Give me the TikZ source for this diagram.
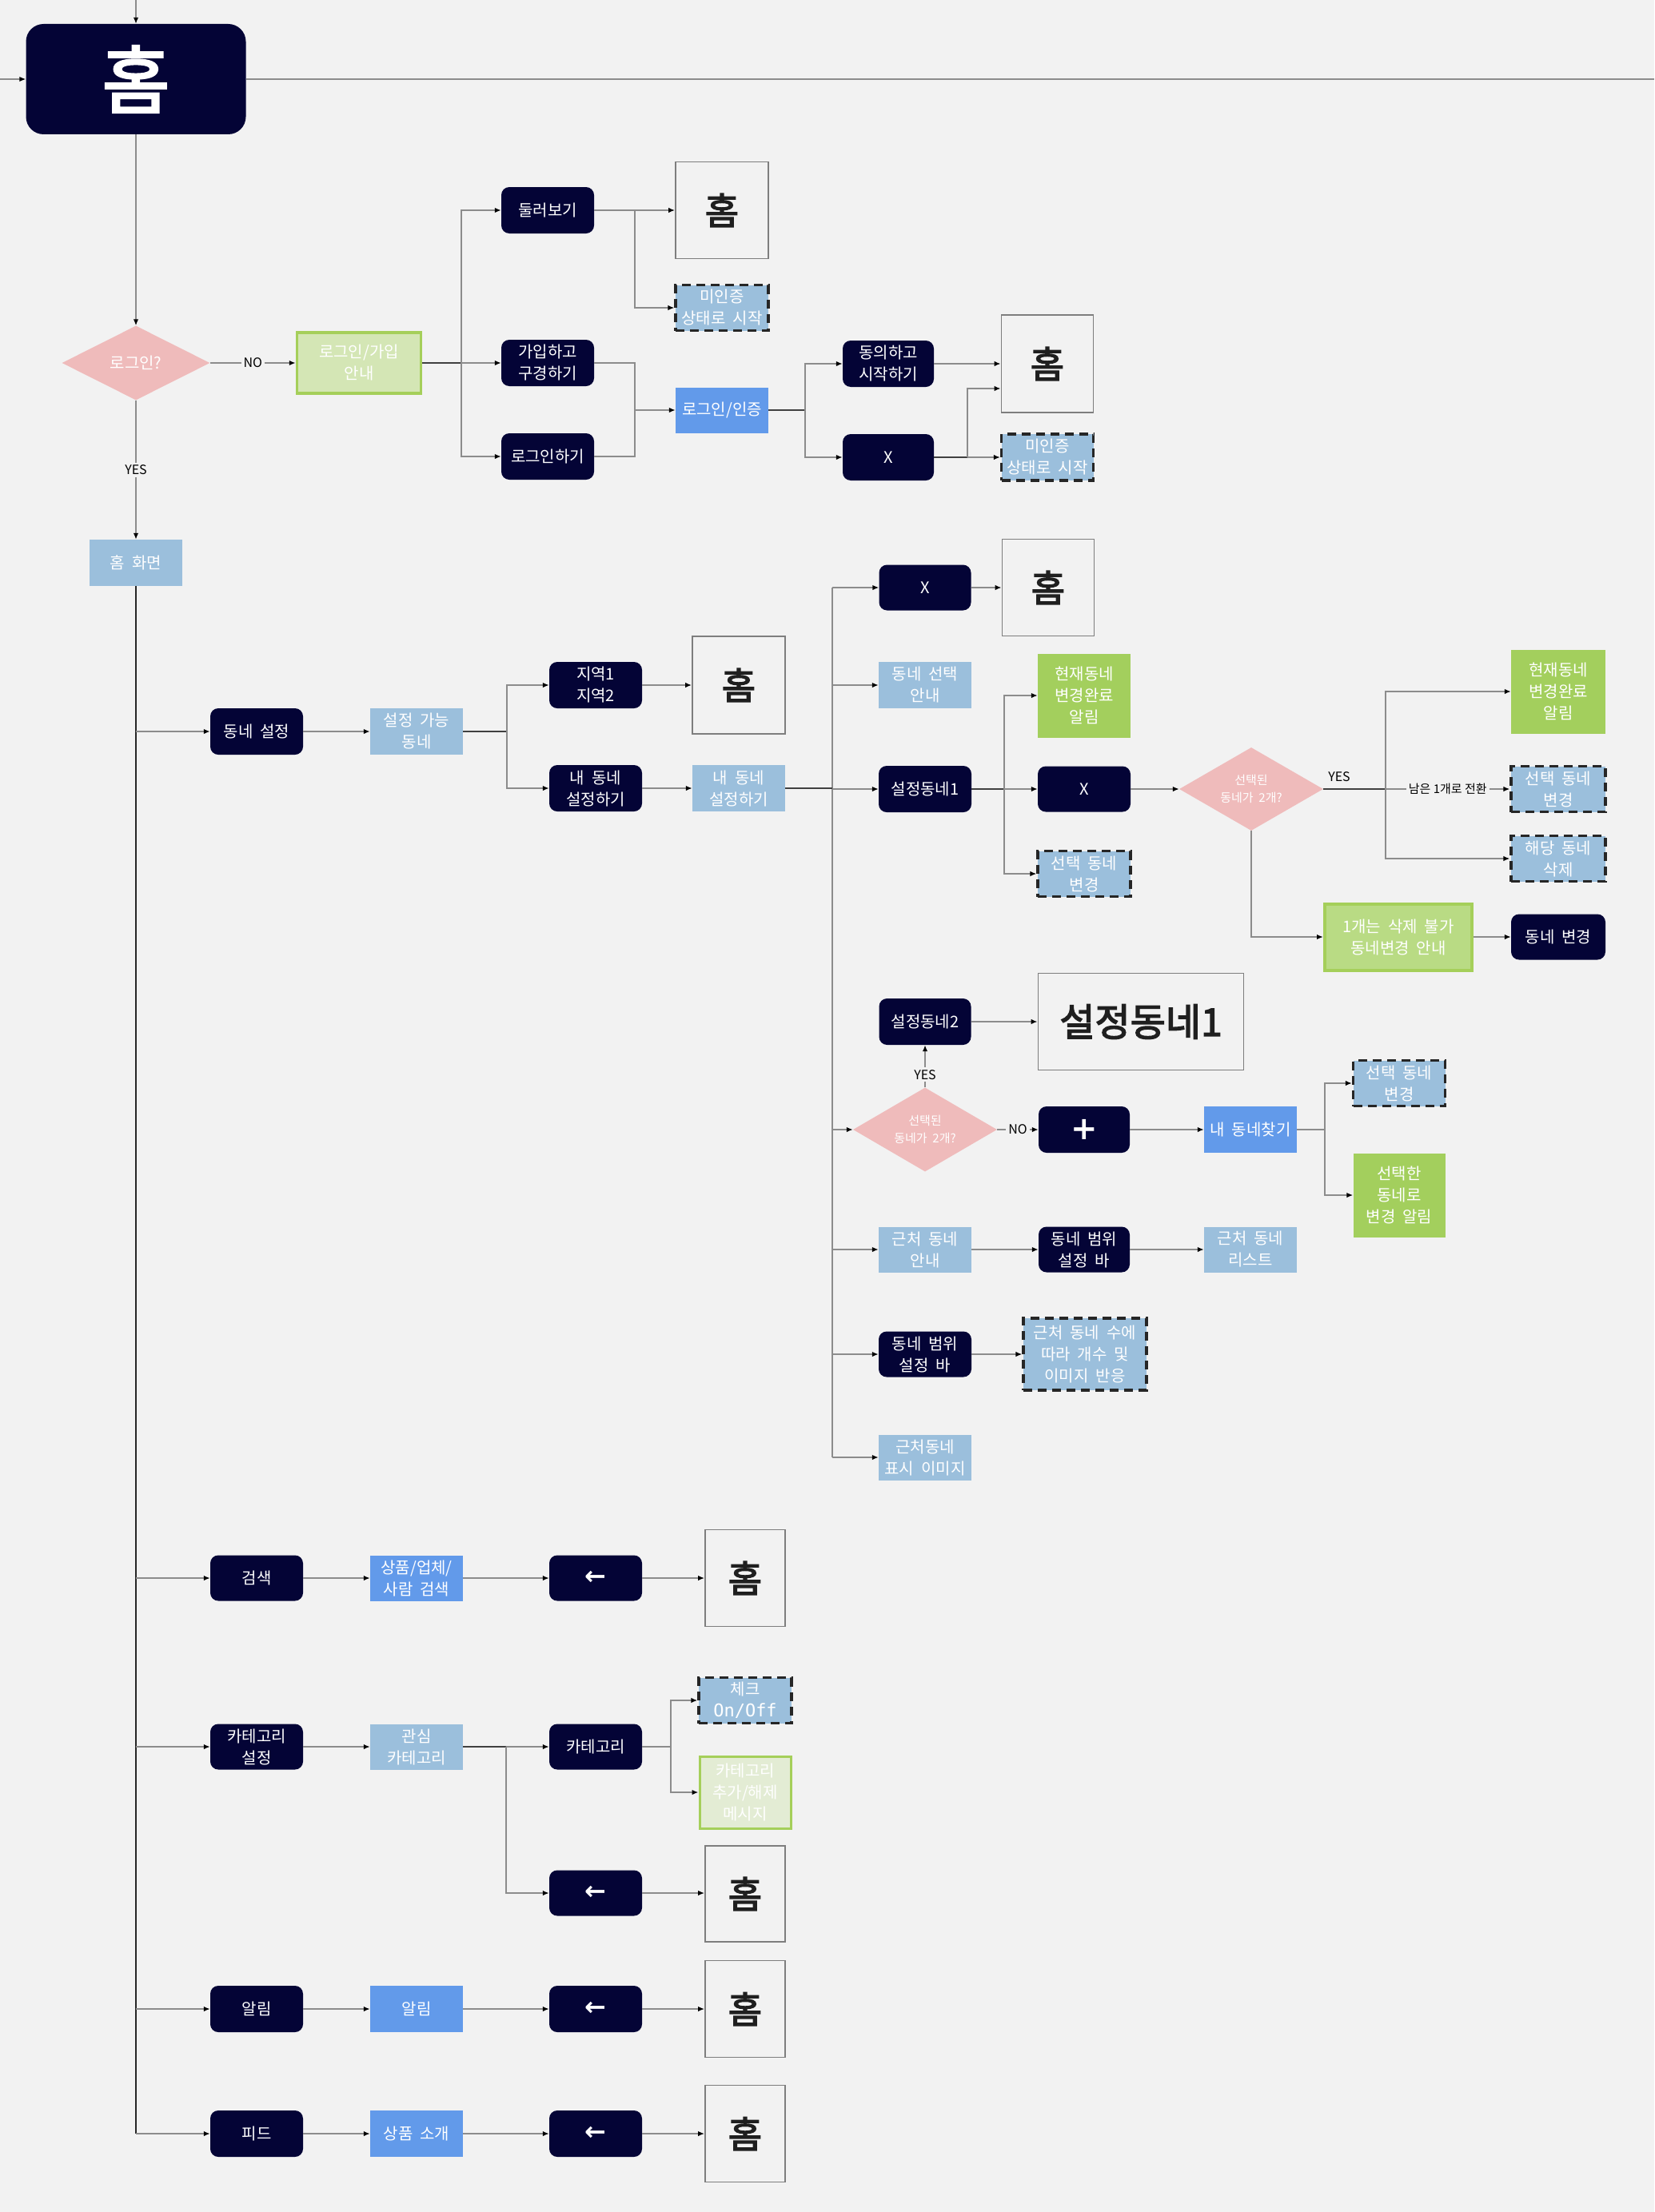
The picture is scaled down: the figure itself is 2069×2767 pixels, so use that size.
\documentclass[tikz,border=0pt]{standalone}
\usepackage{fontspec}
\setmainfont{Noto Sans CJK KR}
\newfontfamily\heavyfont[FakeBold=3]{Noto Sans CJK KR}
\newfontfamily\symfont{DejaVu Sans}
\newfontfamily\codefont{DejaVu Sans Mono}
\usetikzlibrary{arrows.meta,shapes.geometric,calc}

\definecolor{navy}{HTML}{040436}
\definecolor{paper}{HTML}{F2F2F2}
\definecolor{steel}{HTML}{9BBFDC}
\definecolor{corn}{HTML}{629AEA}
\definecolor{blush}{HTML}{EFBBBB}
\definecolor{leaf}{HTML}{A3CF5D}
\definecolor{leafpale}{HTML}{D4E6B5}
\definecolor{leafmid}{HTML}{B9DB84}
\definecolor{leafedge}{HTML}{A5CF5A}
\definecolor{leafwash}{HTML}{E3ECD4}
\definecolor{wirecol}{HTML}{8C8C8C}
\definecolor{ink}{HTML}{1F1F1F}

\newcommand\boxfont[2]{\fontsize{#1}{#2}\selectfont\spaceskip=0.45em\relax}

\begin{document}
\begin{tikzpicture}[x=1pt,y=-1pt,
  base/.style={align=center, inner sep=0pt, text=white, font=\boxfont{20}{27}},
  navybox/.style={base, fill=navy, rounded corners=10pt, minimum width=116pt, minimum height=58pt},
  palebox/.style={base, fill=steel, minimum width=116pt, minimum height=58pt},
  brightbox/.style={base, fill=corn, minimum width=116pt, minimum height=58pt},
  dashbox/.style={base, fill=steel, draw=black!85, line width=3.2pt, dash pattern=on 11pt off 7pt, minimum width=116pt, minimum height=57pt},
  leafbox/.style={base, fill=leaf, minimum width=116pt, minimum height=105pt},
  screenbox/.style={draw=wirecol!90!black, line width=1.8pt, fill=paper, text=ink, inner sep=0pt, font=\heavyfont\fontsize{46}{46}\selectfont, minimum width=116pt, minimum height=121pt},
  decision/.style={base, diamond, shape aspect=2, fill=blush, minimum width=180pt, minimum height=104pt, font=\boxfont{15}{22}},
  wire/.style={draw=wirecol, line width=1.8pt},
  stem/.style={draw=black!75, line width=2.2pt},
  flow/.style={wire, -{Latex[length=8pt,width=6.5pt,color=black]}},
  busline/.style={draw=black!85, line width=2.6pt},
  tag/.style={fill=paper, inner sep=3pt, text=black, font=\fontsize{16}{16}\selectfont},
  arrowglyph/.style={font=\symfont\bfseries\fontsize{32}{32}\selectfont}
]
\fill[paper] (0,0) rectangle (2069,2767);
\useasboundingbox (0,0) rectangle (2069,2767);

% ---------- entry and login ----------
\node[base, fill=navy, rounded corners=22pt, minimum width=275pt, minimum height=138pt, font=\heavyfont\fontsize{92}{92}\selectfont] (home0) at (170,99) {홈};
\coordinate (topin) at (170,0);
\coordinate (leftin) at (0,99);
\coordinate (rightout) at (2069,99);
\draw[flow] (topin) -- (home0.north);
\draw[flow] (leftin) -- (home0.west);
\draw[wire] (home0.east) -- (rightout);

\node[decision, minimum width=185pt, minimum height=93pt, font=\boxfont{20}{27}] (login) at (170,454) {로그인?};
\node[base, fill=leafpale, draw=leafedge, line width=3.5pt, minimum width=155pt, minimum height=76pt] (guide) at (449,454) {로그인/가입\\안내};
\node[navybox] (browse) at (685,263) {둘러보기};
\node[navybox] (join) at (685,454) {가입하고\\구경하기};
\node[navybox] (signin) at (685,571) {로그인하기};
\node[screenbox] (homeA) at (903,263) {홈};
\node[dashbox] (unauthA) at (903,385) {미인증\\상태로 시작};
\node[brightbox, minimum height=57pt] (auth) at (903,513) {로그인/인증};
\node[navybox, minimum width=114pt] (agree) at (1111,455) {동의하고\\시작하기};
\node[navybox, minimum width=114pt] (xA) at (1111,572) {X};
\node[screenbox, minimum width=115pt, minimum height=122pt] (homeB) at (1310,455) {홈};
\node[dashbox, minimum width=115pt, minimum height=58pt] (unauthB) at (1310,572) {미인증\\상태로 시작};
\node[palebox] (homescreen) at (170,704) {홈 화면};

\draw[flow] (home0.south) -- (login.north);
\draw[flow] (login.east) -- node[tag] (noA) {NO} (guide.west);
\coordinate (g1) at (577,454);
\draw[stem] (guide.east) -- (g1);
\draw[flow] (g1) |- (browse.west);
\draw[flow] (g1) -- (join.west);
\draw[flow] (g1) |- (signin.west);
\coordinate (g2) at (794,263);
\draw[flow] (browse.east) -- (homeA.west);
\draw[flow] (g2) |- (unauthA.west);
\coordinate (g3) at (794,513);
\draw[wire] (join.east) -| (g3);
\draw[wire] (signin.east) -| (g3);
\draw[flow] (g3) -- (auth.west);
\coordinate (g4) at (1007,513);
\draw[stem] (auth.east) -- (g4);
\draw[flow] (g4) |- (agree.west);
\draw[flow] (g4) |- (xA.west);
\draw[flow] (agree.east) -- (homeB.west);
\coordinate (g5) at (1210,572);
\draw[stem] (xA.east) -- (g5);
\draw[flow] (g5) |- ($(homeB.west)+(0,31)$);
\draw[flow] (g5) -- (unauthB.west);
\draw[flow] (login.south) -- node[tag] (yesA) {YES} (homescreen.north);

% ---------- main spine ----------
\coordinate (spineEnd) at (170,2669);
\draw[busline] (homescreen.south) -- (spineEnd);

% ---------- neighbourhood settings ----------
\node[navybox] (nbset) at (321,915) {동네 설정};
\node[palebox] (settable) at (521,915) {설정 가능\\동네};
\node[navybox] (region) at (745,857) {지역1\\지역2};
\node[screenbox, minimum height=122pt] (homeC) at (924,857) {홈};
\node[navybox] (mynbD) at (745,986) {내 동네\\설정하기};
\node[palebox] (mynbL) at (924,986) {내 동네\\설정하기};

\draw[flow] (170,915) -- (nbset.west);
\draw[flow] (nbset.east) -- (settable.west);
\coordinate (h1) at (634,915);
\draw[stem] (settable.east) -- (h1);
\draw[flow] (h1) |- (region.west);
\draw[flow] (h1) |- (mynbD.west);
\draw[flow] (region.east) -- (homeC.west);
\draw[flow] (mynbD.east) -- (mynbL.west);

\node[navybox, minimum width=115pt, minimum height=57pt] (xB) at (1157,735) {X};
\node[screenbox, minimum width=115pt] (homeD) at (1311,735) {홈};
\node[palebox] (selguide) at (1157,857) {동네 선택\\안내};
\node[navybox] (set1) at (1157,987) {설정동네1};
\node[leafbox] (done1) at (1356,870) {현재동네\\변경완료\\알림};
\node[navybox, minimum height=57pt] (xC) at (1356,987) {X};
\node[dashbox] (chg1) at (1356,1093) {선택 동네\\변경};
\node[decision] (pick2) at (1565,987) {선택된\\동네가 2개?};
\node[leafbox, minimum width=118pt] (done2) at (1949,865) {현재동네\\변경완료\\알림};
\node[dashbox, minimum width=118pt] (chg2) at (1949,987) {선택 동네\\변경};
\node[dashbox, minimum width=118pt] (del) at (1949,1074) {해당 동네\\삭제};
\node[base, fill=leafmid, draw=leafedge, line width=4pt, minimum width=184pt, minimum height=83pt] (cannot) at (1749,1172) {1개는 삭제 불가\\동네변경 안내};
\node[navybox, minimum width=118pt, minimum height=57pt] (nbchg) at (1949,1172) {동네 변경};
\node[navybox, minimum width=115pt] (set2) at (1157,1278) {설정동네2};
\node[screenbox, minimum width=257pt, minimum height=121pt, font=\heavyfont\fontsize{48}{48}\selectfont] (big1) at (1427,1278) {설정동네1};
\node[decision, minimum height=105pt] (pick3) at (1157,1413) {선택된\\동네가 2개?};
\node[navybox, minimum width=114pt, font=\symfont\bfseries\fontsize{40}{40}\selectfont] (plus) at (1356,1413) {+};
\node[brightbox] (find) at (1564,1413) {내 동네찾기};
\node[dashbox, minimum width=115pt] (chg3) at (1750,1355) {선택 동네\\변경};
\node[leafbox, minimum width=115pt] (notify) at (1750,1495) {선택한\\동네로\\변경 알림};
\node[palebox, minimum height=57pt] (near) at (1157,1563) {근처 동네\\안내};
\node[navybox, minimum width=114pt, minimum height=57pt] (range1) at (1356,1563) {동네 범위\\설정 바};
\node[palebox, minimum height=57pt] (list) at (1564,1563) {근처 동네\\리스트};
\node[navybox, minimum height=57pt] (range2) at (1157,1694) {동네 범위\\설정 바};
\node[dashbox, minimum width=154pt, minimum height=90pt] (react) at (1357,1694) {근처 동네 수에\\따라 개수 및\\이미지 반응};
\node[palebox, minimum height=57pt] (img) at (1157,1823) {근처동네\\표시 이미지};

\coordinate (k0) at (1041,735);
\coordinate (k9) at (1041,1823);
\draw[wire] (k0) -- (k9);
\draw[stem] (mynbL.east) -- (mynbL.east -| k0);
\draw[flow] (k0) -- (xB.west);
\draw[flow] (k0 |- selguide.west) -- (selguide.west);
\draw[flow] (k0 |- set1.west) -- (set1.west);
\draw[flow] (k0 |- pick3.west) -- (pick3.west);
\draw[flow] (k0 |- near.west) -- (near.west);
\draw[flow] (k0 |- range2.west) -- (range2.west);
\draw[flow] (k9) -- (img.west);
\draw[flow] (xB.east) -- (homeD.west);

\coordinate (m1) at (1256,987);
\draw[stem] (set1.east) -- (m1);
\draw[flow] (m1) |- (done1.west);
\draw[flow] (m1) -- (xC.west);
\draw[flow] (m1) |- (chg1.west);
\draw[flow] (xC.east) -- (pick2.west);

\coordinate (m2) at (1733,987);
\draw[stem] (pick2.east) -- (m2);
\node[text=black, inner sep=0pt, font=\fontsize{16}{16}\selectfont] (yesB) at (1675,972) {YES};
\draw[flow] (m2) |- (done2.west);
\draw[flow] (m2) -- node[tag, font=\fontsize{15}{15}\selectfont] (turn) {남은 1개로 전환} (chg2.west);
\draw[flow] (m2) |- (del.west);
\draw[flow] (pick2.south) |- (cannot.west);
\draw[flow] (cannot.east) -- (nbchg.west);

\draw[flow] (pick3.north) -- node[tag, pos=0.3] (yesC) {YES} (set2.south);
\draw[flow] (set2.east) -- (big1.west);
\draw[flow] (pick3.east) -- node[tag] (noB) {NO} (plus.west);
\draw[flow] (plus.east) -- (find.west);
\coordinate (m3) at (1657,1413);
\draw[wire] (find.east) -- (m3);
\draw[flow] (m3) |- (chg3.west);
\draw[flow] (m3) |- (notify.west);
\draw[flow] (near.east) -- (range1.west);
\draw[flow] (range1.east) -- (list.west);
\draw[flow] (range2.east) -- (react.west);

% ---------- search ----------
\node[navybox, minimum height=57pt] (search) at (321,1974) {검색};
\node[brightbox, minimum height=57pt] (query) at (521,1974) {상품/업체/\\사람 검색};
\node[navybox, minimum height=57pt, arrowglyph] (back1) at (745,1974) {←};
\node[screenbox, minimum width=100pt, minimum height=121pt] (homeE) at (932,1974) {홈};
\draw[flow] (170,1974) -- (search.west);
\draw[flow] (search.east) -- (query.west);
\draw[flow] (query.east) -- (back1.west);
\draw[flow] (back1.east) -- (homeE.west);

% ---------- categories ----------
\node[navybox, minimum height=57pt] (cat) at (321,2185) {카테고리\\설정};
\node[palebox, minimum height=57pt] (interest) at (521,2185) {관심\\카테고리};
\node[navybox, minimum height=57pt] (catb) at (745,2185) {카테고리};
\node[dashbox, minimum height=57pt] (check) at (932,2127) {체크\\{\codefont\fontsize{22}{27}\selectfont On/Off}};
\node[base, fill=leafwash, draw=leafedge, line width=3pt, minimum width=114pt, minimum height=90pt] (addmsg) at (932,2242) {카테고리\\추가/해제\\메시지};
\node[navybox, minimum height=57pt, arrowglyph] (back2) at (745,2368) {←};
\node[screenbox, minimum width=100pt, minimum height=120pt] (homeF) at (932,2369) {홈};
\draw[flow] (170,2185) -- (cat.west);
\draw[flow] (cat.east) -- (interest.west);
\coordinate (c1) at (633,2185);
\draw[stem] (interest.east) -- (c1);
\draw[flow] (c1) -- (catb.west);
\draw[flow] (c1) |- (back2.west);
\coordinate (c2) at (839,2185);
\draw[wire] (catb.east) -- (c2);
\draw[flow] (c2) |- (check.west);
\draw[flow] (c2) |- (addmsg.west);
\draw[flow] (back2.east) -- (back2.east -| homeF.west);

% ---------- alerts ----------
\node[navybox, minimum height=58pt] (alarm) at (321,2513) {알림};
\node[brightbox] (alarmL) at (521,2513) {알림};
\node[navybox, arrowglyph] (back3) at (745,2513) {←};
\node[screenbox, minimum width=100pt] (homeG) at (932,2513) {홈};
\draw[flow] (170,2513) -- (alarm.west);
\draw[flow] (alarm.east) -- (alarmL.west);
\draw[flow] (alarmL.east) -- (back3.west);
\draw[flow] (back3.east) -- (homeG.west);

% ---------- feed ----------
\node[navybox] (feed) at (321,2669) {피드};
\node[brightbox] (prod) at (521,2669) {상품 소개};
\node[navybox, arrowglyph] (back4) at (745,2669) {←};
\node[screenbox, minimum width=100pt] (homeH) at (932,2669) {홈};
\draw[flow] (spineEnd) -- (feed.west);
\draw[flow] (feed.east) -- (prod.west);
\draw[flow] (prod.east) -- (back4.west);
\draw[flow] (back4.east) -- (homeH.west);
\end{tikzpicture}
\end{document}
